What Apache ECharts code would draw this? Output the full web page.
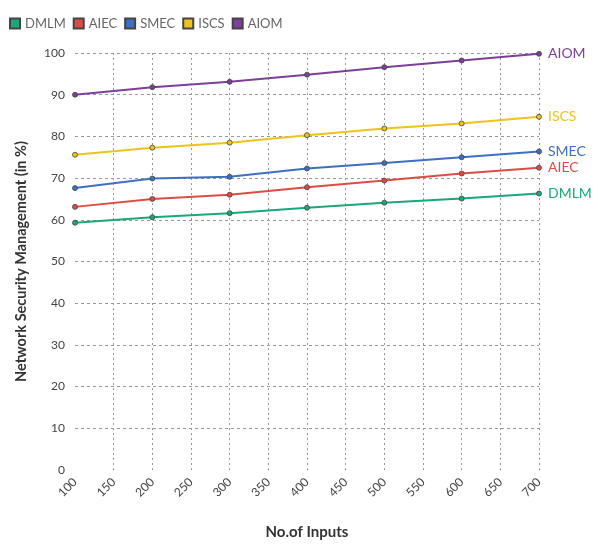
<!DOCTYPE html>
<html><head><meta charset="utf-8">
<script src="https://cdn.jsdelivr.net/npm/echarts@6/dist/echarts.min.js"></script>
<style>html,body{margin:0;padding:0;background:#fff}#c{width:602px;height:545px}</style>
</head><body><div id="c"></div>
<script>
const xValues = [100, 200, 300, 400, 500, 600, 700];
const seriesNames = ['DMLM', 'AIEC', 'SMEC', 'ISCS', 'AIOM'];
const DMLM = [59.3, 60.6, 61.6, 62.9, 64.1, 65.1, 66.3];
const AIEC = [63.1, 65.0, 66.0, 67.8, 69.4, 71.1, 72.5];
const SMEC = [67.6, 69.9, 70.3, 72.3, 73.6, 75.0, 76.4];
const ISCS = [75.6, 77.3, 78.5, 80.3, 81.9, 83.1, 84.7];
const AIOM = [90.0, 91.8, 93.1, 94.8, 96.6, 98.2, 99.8];
const colors = ['#1aa874', '#dd4c44', '#3d6fc2', '#eec31a', '#7d3f98'];
const allData = [DMLM, AIEC, SMEC, ISCS, AIOM];
const font = 'Lato';
const chart = echarts.init(document.getElementById('c'));
chart.setOption({
  animation: false,
  color: colors,
  textStyle: {fontFamily: font},
  legend: {
    left: 4, top: 12, itemWidth: 10, itemHeight: 10, itemGap: 7, icon: 'rect',
    textStyle: {fontFamily: font, fontSize: 13, color: '#666'},
    data: seriesNames
  },
  grid: {left: 75, right: 63, top: 53, bottom: 64, containLabel: false},
  xAxis: {
    type: 'value', min: 100, max: 700, interval: 50,
    name: 'No.of Inputs', nameLocation: 'middle', nameGap: 55,
    nameTextStyle: {fontFamily: font, fontSize: 15, fontWeight: 'bold', color: '#333'},
    axisLine: {show: false}, axisTick: {show: false},
    axisLabel: {rotate: 45, fontFamily: font, fontSize: 12, color: '#444', margin: 10},
    splitLine: {show: true, showMinLine: false, lineStyle: {type: [2, 3], color: '#999'}}
  },
  yAxis: {
    type: 'value', min: 0, max: 100, interval: 10,
    name: 'Network Security Management (in %)', nameLocation: 'middle', nameGap: 46,
    nameTextStyle: {fontFamily: font, fontSize: 14.5, fontWeight: 'bold', color: '#333'},
    axisLine: {show: false}, axisTick: {show: false},
    axisLabel: {fontFamily: font, fontSize: 12, color: '#444', margin: 10},
    splitLine: {show: true, showMinLine: false, lineStyle: {type: [3, 3], color: '#999'}}
  },
  series: seriesNames.map((n, i) => ({
    name: n, type: 'line',
    data: xValues.map((x, j) => [x, allData[i][j]]),
    symbol: 'circle', symbolSize: 5,
    itemStyle: {color: colors[i], borderColor: '#444', borderWidth: 0.8},
    lineStyle: {width: 2, color: colors[i]},
    endLabel: {show: true, formatter: n, color: colors[i], fontFamily: font, fontSize: 14, distance: 9}
  }))
});
</script></body></html>
